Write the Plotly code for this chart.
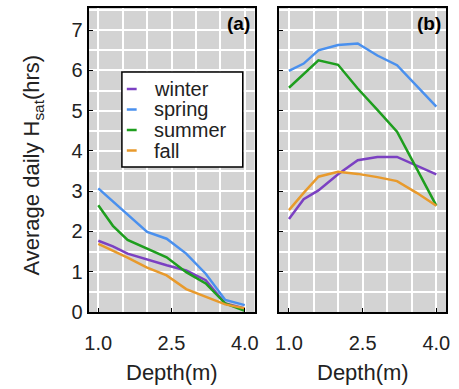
import plotly.graph_objects as go

depth = [1.0, 1.3, 1.6, 2.0, 2.4, 2.8, 3.2, 3.6, 4.0]
seasons = ["winter", "spring", "summer", "fall"]
colors = {"winter": "#7b40c2", "spring": "#4a90ee", "summer": "#1e9e1e", "fall": "#e89a2c"}

panel_a = {
    "winter": [1.77, 1.63, 1.45, 1.30, 1.16, 1.03, 0.79, 0.21, 0.09],
    "spring": [3.07, 2.75, 2.43, 1.99, 1.82, 1.45, 0.95, 0.30, 0.17],
    "summer": [2.65, 2.14, 1.79, 1.57, 1.36, 0.99, 0.71, 0.21, 0.03],
    "fall":   [1.69, 1.53, 1.35, 1.10, 0.91, 0.57, 0.38, 0.19, 0.09],
}
panel_b = {
    "winter": [2.31, 2.80, 3.02, 3.42, 3.77, 3.85, 3.85, 3.64, 3.42],
    "spring": [5.99, 6.17, 6.50, 6.63, 6.67, 6.37, 6.13, 5.62, 5.10],
    "summer": [5.57, 5.92, 6.25, 6.14, 5.55, 5.02, 4.48, 3.56, 2.64],
    "fall":   [2.53, 2.96, 3.36, 3.48, 3.43, 3.35, 3.25, 2.96, 2.64],
}

xticks = [1.0, 2.5, 4.0]
xticktext = ["1.0", "2.5", "4.0"]
yticks = [0, 1, 2, 3, 4, 5, 6, 7]

W, H = 459, 389
TOP, BOT = 8, 77
PH = H - TOP - BOT


def py(ypix):
    return 1 - (ypix - TOP) / PH


fig = go.Figure()

for s in seasons:
    fig.add_trace(go.Scatter(x=depth, y=panel_a[s], mode="lines", name=s,
                             line=dict(color=colors[s], width=2.5),
                             xaxis="x", yaxis="y", showlegend=False))
    fig.add_trace(go.Scatter(x=depth, y=panel_b[s], mode="lines", name=s,
                             line=dict(color=colors[s], width=2.5),
                             xaxis="x2", yaxis="y2", showlegend=False))

font = "Arial, Liberation Sans, sans-serif"
grid = dict(showgrid=True, gridcolor="white", gridwidth=2)
frame = dict(showline=True, linecolor="black", linewidth=2, mirror=True, zeroline=False)


def xax(domain):
    return dict(domain=domain, range=[0.8, 4.2], tickmode="array", tickvals=xticks, ticktext=xticktext,
                ticks="inside", ticklen=4, tickcolor="black", ticklabelstandoff=12,
                tickfont=dict(size=20, color="#222"),
                minor=dict(tick0=1.0, dtick=0.5, showgrid=True, gridcolor="white", gridwidth=2),
                **grid, **frame)


def yax(anchor, labels):
    return dict(anchor=anchor, range=[0, 7.55], tickmode="array", tickvals=yticks,
                showticklabels=labels, ticks="inside", ticklen=4, tickcolor="black",
                tickfont=dict(size=20, color="#222"),
                minor=dict(tick0=0, dtick=0.5, showgrid=True, gridcolor="white", gridwidth=2),
                **grid, **frame)


# legend box (drawn manually for compact spacing)
LX0, LX1, LY0, LY1 = 120, 243, 72, 167
shapes = [dict(type="rect", xref="paper", yref="paper", x0=LX0 / W, x1=LX1 / W, y0=py(LY1), y1=py(LY0),
               fillcolor="white", line=dict(color="black", width=1.5), layer="above")]
annotations = []
for i, s in enumerate(seasons):
    yc = 89 + 20.5 * i
    shapes.append(dict(type="line", xref="paper", yref="paper", x0=125 / W, x1=135 / W,
                       y0=py(yc), y1=py(yc), line=dict(color=colors[s], width=2.5), layer="above"))
    annotations.append(dict(text=s, x=151 / W, y=py(yc), xref="paper", yref="paper",
                            xanchor="left", yanchor="middle", showarrow=False,
                            font=dict(size=20, color="#222")))

annotations += [
    dict(text="<b>(a)</b>", x=252 / W, y=py(11), xref="paper", yref="paper",
         xanchor="right", yanchor="top", showarrow=False, font=dict(size=19, color="black")),
    dict(text="<b>(b)</b>", x=447 / W, y=py(11), xref="paper", yref="paper",
         xanchor="right", yanchor="top", showarrow=False, font=dict(size=19, color="black")),
    dict(text="Depth(m)", x=(86 + 255) / 2 / W, y=py(372), xref="paper", yref="paper",
         xanchor="center", yanchor="middle", showarrow=False, font=dict(size=22, color="#222")),
    dict(text="Depth(m)", x=(280 + 450) / 2 / W, y=py(372), xref="paper", yref="paper",
         xanchor="center", yanchor="middle", showarrow=False, font=dict(size=22, color="#222")),
    dict(text="Average daily H<sub>sat</sub>(hrs)", x=30 / W, y=py(165),
         xref="paper", yref="paper", xanchor="center", yanchor="middle", textangle=-90,
         showarrow=False, font=dict(size=22, color="#222")),
]

fig.update_layout(
    width=W, height=H,
    margin=dict(l=0, r=0, t=TOP, b=BOT),
    paper_bgcolor="white", plot_bgcolor="#d3d3d3",
    font=dict(family=font, color="#222"),
    xaxis=xax([86 / W, 255 / W]),
    xaxis2=xax([280 / W, 450 / W]),
    yaxis=yax("x", True),
    yaxis2=yax("x2", False),
    showlegend=False,
    shapes=shapes,
    annotations=annotations,
)

fig.write_html("out.html")
